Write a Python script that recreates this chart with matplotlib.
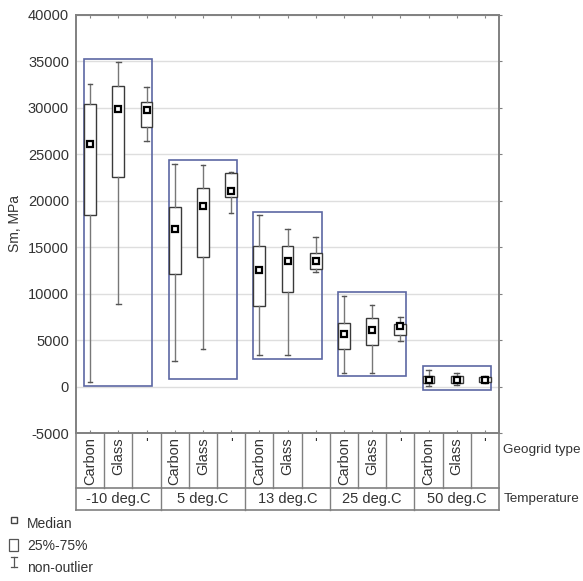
import matplotlib
matplotlib.use("Agg")
import matplotlib.pyplot as plt
from matplotlib.patches import Rectangle
from matplotlib.lines import Line2D

plt.rcParams['font.family'] = ['Liberation Sans', 'DejaVu Sans']
plt.rcParams['axes.unicode_minus'] = False

temperatures = ['-10 deg.C', '5 deg.C', '13 deg.C', '25 deg.C', '50 deg.C']
geogrid = ['Carbon', 'Glass', "'"]

# per box: whisker low, q1, median, q3, whisker high (MPa)
whis_lo = [470, 8910, 26410, 2800, 4060, 18680, 3420, 3420, 12320, 1480, 1480, 4880, 30, 140, 400]
q1 = [18400, 22530, 27950, 12070, 13900, 20400, 8620, 10170, 12690, 3990, 4490, 5500, 400, 400, 500]
median = [26050, 29830, 29750, 17000, 19370, 21020, 12580, 13480, 13510, 5640, 6110, 6470, 720, 750, 750]
q3 = [30370, 32300, 30580, 19330, 21380, 22930, 15090, 15120, 14410, 6870, 7410, 6680, 1110, 1110, 1000]
whis_hi = [32520, 34890, 32200, 23930, 23860, 23100, 18430, 17000, 16060, 9700, 8810, 7470, 1760, 1430, 1100]

# overall range of each temperature group
group_lo = [100, 830, 2910, 1080, -360]
group_hi = [35200, 24330, 18790, 10130, 2160]

fig = plt.figure(figsize=(5.83, 5.81), dpi=100)
ax = fig.add_axes([0.1304, 0.2547, 0.7256, 0.72])

pos = list(range(15))
stats = []
for i in pos:
    stats.append(dict(whislo=whis_lo[i], q1=q1[i], med=median[i], q3=q3[i], whishi=whis_hi[i]))

bw = 0.42
ax.bxp(stats, positions=pos, widths=bw, showfliers=False, patch_artist=True,
       capwidths=0.16,
       boxprops=dict(facecolor='white', edgecolor='#3a3a3a', linewidth=1.0),
       whiskerprops=dict(color='#777777', linewidth=1.0),
       capprops=dict(color='#555555', linewidth=1.0),
       medianprops=dict(visible=False), manage_ticks=False, zorder=3)
ax.plot(pos, median, linestyle='none', marker='s', markersize=5,
        markerfacecolor='white', markeredgecolor='black', markeredgewidth=1.6, zorder=4)

for g in range(5):
    x0 = pos[3 * g] - bw / 2
    x1 = pos[3 * g + 2] + bw / 2
    ax.add_patch(Rectangle((x0, group_lo[g]), x1 - x0, group_hi[g] - group_lo[g],
                           fill=False, edgecolor='#5c67a3', linewidth=1.2, zorder=2))

ax.set_xlim(-0.5, 14.5)
ax.set_ylim(-5000, 40000)
ax.set_yticks(range(-5000, 40001, 5000))
ax.set_xticks(pos)
ax.set_xticklabels([])
ax.yaxis.grid(True, color='#dedede', linewidth=1.0)
ax.set_axisbelow(True)
for s in ax.spines.values():
    s.set_color('#808080')
    s.set_linewidth(1.4)
ax.tick_params(axis='y', left=False, right=True, direction='out', length=2,
               color='#808080', labelsize=10.5, labelcolor='#333333', pad=3)
ax.tick_params(axis='x', bottom=True, top=True, direction='in', length=2.5,
               color='#808080')
ax.set_ylabel('Sm, MPa', fontsize=10, color='#333333', labelpad=4)

# category table under the plot
tr = ax.get_xaxis_transform()
r1 = -0.1315
r2 = -0.184
lc = '#808080'
ax.plot([-0.5, 14.5], [r1, r1], transform=tr, color=lc, lw=1.2, clip_on=False)
ax.plot([-0.5, 14.5], [r2, r2], transform=tr, color=lc, lw=1.2, clip_on=False)
ax.plot([-0.5, -0.5], [0, r2], transform=tr, color=lc, lw=1.2, clip_on=False)
ax.plot([14.5, 14.5], [0, r2], transform=tr, color=lc, lw=1.2, clip_on=False)
for i in pos[:-1]:
    top = r2 if (i + 1) % 3 == 0 else r1
    ax.plot([i + 0.5, i + 0.5], [0, top], transform=tr, color=lc, lw=1.0, clip_on=False)
for i in pos:
    lab = geogrid[i % 3]
    rot = 0 if lab == "'" else 90
    ax.text(i, -0.01, lab, transform=tr, rotation=rot, ha='center', va='top',
            fontsize=10.5, color='#333333')
for g in range(5):
    ax.text(3 * g + 1, (r1 + r2) / 2, temperatures[g], transform=tr, ha='center',
            va='center', fontsize=10.5, color='#333333')
ax.text(1.01, -0.041, 'Geogrid type', transform=ax.transAxes, ha='left', va='center',
        fontsize=9.7, color='#333333')
ax.text(1.01, (r1 + r2) / 2, 'Temperature', transform=ax.transAxes, ha='left', va='center',
        fontsize=9.7, color='#333333')

# legend drawn at the bottom left
W, H = 583, 581
def fx(px):
    return px / W
def fy(py):
    return 1 - py / H

fig.add_artist(Line2D([fx(14)], [fy(520)], marker='s', markersize=4, markerfacecolor='white',
                      markeredgecolor='#444444', markeredgewidth=1.0, linestyle='none'))
fig.text(fx(27), fy(524), 'Median', fontsize=10, color='#333333', va='center')
fig.add_artist(Rectangle((fx(9), fy(551)), fx(9), fy(539) - fy(551), fill=False,
                         edgecolor='#555555', linewidth=0.9, transform=fig.transFigure))
fig.text(fx(27), fy(546), '25%-75%', fontsize=10, color='#333333', va='center')
fig.add_artist(Line2D([fx(14), fx(14)], [fy(557), fy(567)], color='#555555', lw=0.9))
fig.add_artist(Line2D([fx(11), fx(17)], [fy(557), fy(557)], color='#555555', lw=0.9))
fig.add_artist(Line2D([fx(11), fx(17)], [fy(567), fy(567)], color='#555555', lw=0.9))
fig.text(fx(27), fy(568), 'non-outlier', fontsize=10, color='#333333', va='center')

fig.savefig('out.png', dpi=100)
